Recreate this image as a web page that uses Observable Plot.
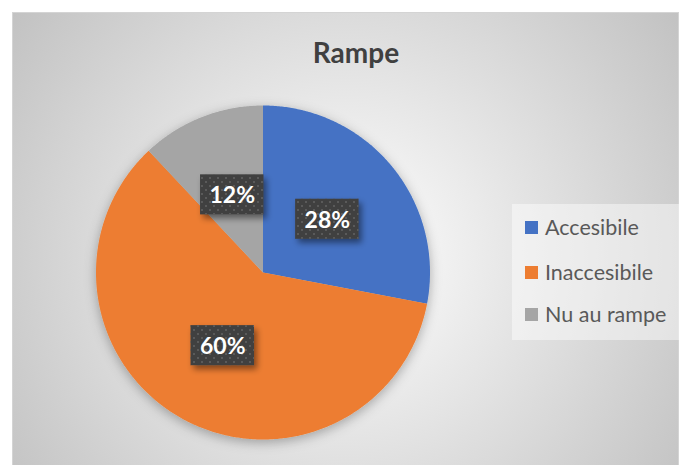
<!DOCTYPE html>
<html>
<head>
<meta charset="utf-8">
<script src="https://cdn.jsdelivr.net/npm/d3@7"></script>
<script src="https://cdn.jsdelivr.net/npm/@observablehq/plot@0.6"></script>
<style>
  html, body { margin: 0; padding: 0; background: #ffffff; }
  #wrap { position: relative; width: 683px; height: 465px; overflow: hidden; font-family: Lato, "Open Sans", sans-serif; }
  #bg { position: absolute; left: 12px; top: 12px; width: 667px; height: 470px;
        border: 1px solid #d4d4d4; box-sizing: border-box;
        background: radial-gradient(circle farthest-corner at 50% 52%, #ffffff 0%, #f6f6f6 15%, #c2c2c2 100%); }
  #title { position: absolute; left: 256px; top: 34px; width: 200px; text-align: center;
           font-size: 28px; font-weight: bold; color: #404040; line-height: 36px; }
  #chart { position: absolute; left: 0; top: 0; }
  #legend { position: absolute; left: 512px; top: 204px; width: 172px; height: 136px;
            background: rgba(255,255,255,0.45); }
  .item { position: absolute; left: 13px; height: 24px; display: flex; align-items: center;
          font-size: 21.5px; color: #595959; white-space: nowrap; }
  .sw { width: 13px; height: 13px; margin-right: 7px; }
</style>
</head>
<body>
<div id="wrap">
  <div id="bg"></div>
  <div id="title">Rampe</div>
  <div id="chart"></div>
  <div id="legend"></div>
</div>
<script>
// ---- data ----
const categories = ["Accesibile", "Inaccesibile", "Nu au rampe"];
const values = [28, 60, 12];
const labels = ["28%", "60%", "12%"];

// ---- styles ----
const colors = ["#4472C4", "#ED7D31", "#A5A5A5"];

const arcs = d3.pie().sort(null).value(d => d)(values);

// build slice polygons from the pie angles (angle 0 at top, clockwise)
const slicePts = [];
arcs.forEach((a, i) => {
  const cat = categories[i];
  slicePts.push({cat, x: 0, y: 0});
  const n = Math.max(2, Math.ceil((a.endAngle - a.startAngle) / (Math.PI / 360)));
  for (let k = 0; k <= n; k++) {
    const t = a.startAngle + (a.endAngle - a.startAngle) * k / n;
    slicePts.push({cat, x: Math.sin(t), y: Math.cos(t)});
  }
});

const labelData = arcs.map((a, i) => {
  const m = (a.startAngle + a.endAngle) / 2;
  return {cat: categories[i], text: labels[i], x: 0.5 * Math.sin(m), y: 0.5 * Math.cos(m)};
});

const hw = 0.19, hh = 0.12;

const plot = Plot.plot({
  width: 683,
  height: 465,
  marginLeft: 95.5,
  marginRight: 253.5,
  marginTop: 105,
  marginBottom: 26,
  x: {domain: [-1, 1], axis: null},
  y: {domain: [-1, 1], axis: null},
  color: {domain: categories, range: colors},
  style: {background: "transparent", overflow: "visible"},
  marks: [
    Plot.line(slicePts, {x: "x", y: "y", z: "cat", fill: "cat", stroke: null, curve: "linear-closed"}),
    Plot.rect(labelData, {x1: d => d.x - hw, x2: d => d.x + hw, y1: d => d.y - hh, y2: d => d.y + hh, fill: "#404040"}),
    Plot.rect(labelData, {x1: d => d.x - hw, x2: d => d.x + hw, y1: d => d.y - hh, y2: d => d.y + hh, fill: "url(#dots)"}),
    Plot.text(labelData, {x: "x", y: "y", text: "text", fill: "white", fontWeight: "bold", fontSize: 23, fontFamily: "Lato, 'Open Sans', sans-serif", dy: 1})
  ]
});

const ns = "http://www.w3.org/2000/svg";
const defs = document.createElementNS(ns, "defs");
defs.innerHTML = `
  <pattern id="dots" width="8" height="8" patternUnits="userSpaceOnUse">
    <rect x="1" y="1" width="2" height="2" fill="#5a5a5a"/>
    <rect x="5" y="5" width="2" height="2" fill="#5a5a5a"/>
  </pattern>
  <filter id="pieShadow" x="-20%" y="-20%" width="140%" height="140%">
    <feDropShadow dx="0" dy="3" stdDeviation="6" flood-color="#000" flood-opacity="0.3"/>
  </filter>
  <filter id="lblShadow" x="-30%" y="-30%" width="170%" height="170%">
    <feDropShadow dx="3" dy="4" stdDeviation="3" flood-color="#000" flood-opacity="0.45"/>
  </filter>`;
plot.insertBefore(defs, plot.firstChild);
const lineG = plot.querySelector('g[aria-label="line"]');
if (lineG) lineG.setAttribute("filter", "url(#pieShadow)");
const rectGs = plot.querySelectorAll('g[aria-label="rect"]');
if (rectGs[0]) rectGs[0].setAttribute("filter", "url(#lblShadow)");
document.getElementById("chart").appendChild(plot);

// legend
const legend = document.getElementById("legend");
const tops = [11, 56, 98];
categories.forEach((c, i) => {
  const it = document.createElement("div");
  it.className = "item";
  it.style.top = tops[i] + "px";
  const sw = document.createElement("div");
  sw.className = "sw";
  sw.style.background = colors[i];
  it.appendChild(sw);
  it.appendChild(document.createTextNode(c));
  legend.appendChild(it);
});
</script>
</body>
</html>
